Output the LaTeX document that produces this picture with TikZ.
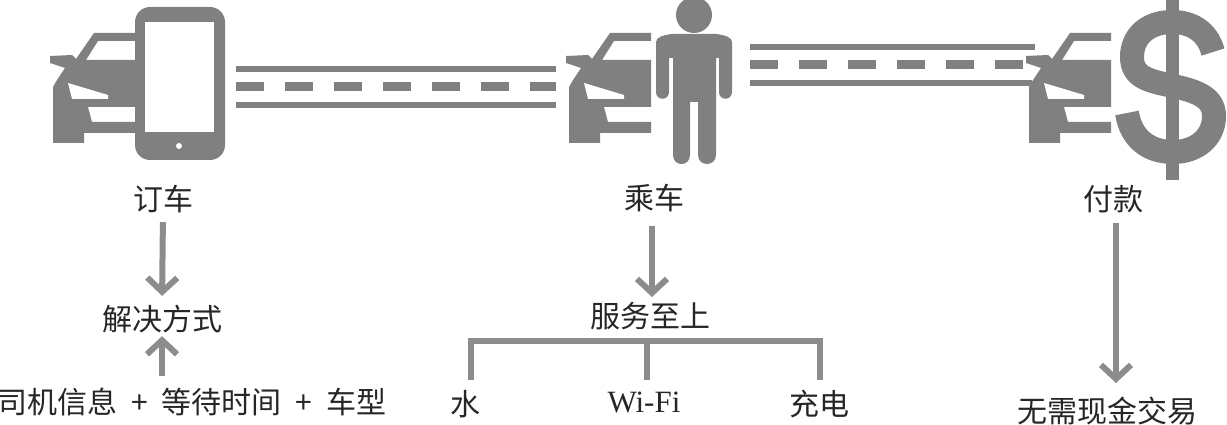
\documentclass[tikz,border=0pt]{standalone}
\usepackage{fontspec}
\usetikzlibrary{arrows.meta}
\setmainfont{Noto Sans CJK SC}
\newfontfamily\latinserif{Liberation Serif}
\definecolor{icongray}{HTML}{808080}
\definecolor{arrowgray}{HTML}{8C8C8C}
\newcommand{\carshape}[1]{%
  \begin{scope}[xshift=#1]
    \fill[icongray] (94,33) -- (135,33) -- (135,41) -- (98,41) -- (86,60) -- (135,60) -- (135,107) -- (88,107)
      -- (92,122) -- (135,122) -- (135,133) -- (84,133) -- (84,143) -- (53,143) -- (53,87) -- (57,80)
      -- (65,68) -- (50,63) -- (50,56) -- (72,55) -- (76,59) -- cycle;
    \fill[white] (68,83) -- (108,95) -- (108,99) -- (72,99) -- cycle;
  \end{scope}}
\tikzset{
  label/.style={inner sep=0pt,font=\fontsize{30}{36}\selectfont,text=black!85},
  flow/.style={draw=arrowgray,line width=6pt,-{Straight Barb[length=14pt,width=30pt,line width=6pt]}},
  bracket/.style={draw=arrowgray,line width=6pt},
  roadline/.style={draw=icongray,line width=5.5pt},
  roaddash/.style={draw=icongray,line width=9pt,dash pattern=on 28pt off 21pt},
  icon/.style={fill=icongray}
}
\begin{document}
\begin{tikzpicture}[x=1pt,y=-1pt]
\useasboundingbox (0,0) rectangle (1227,425);
% cars
\carshape{0pt}
\carshape{516pt}
\carshape{976pt}
% phone
\fill[icon,rounded corners=15pt] (135,7) rectangle (225,160);
\fill[white] (145,22) rectangle (214,132);
\fill[white] (179,146) circle (3);
% person
\fill[icon] (694,15) circle (18);
\fill[icon] (656,42) .. controls (656,37) and (664,35) .. (672,34) -- (716,34) .. controls (724,35) and (732,37) .. (732,42)
  -- (732,92) .. controls (732,101) and (719,101) .. (719,92) -- (719,58) -- (716,58)
  -- (716,155) .. controls (716,167) and (698,167) .. (698,155) -- (698,102) -- (690,102)
  -- (690,155) .. controls (690,167) and (673,167) .. (673,155) -- (673,58) -- (669,58)
  -- (669,92) .. controls (669,101) and (656,101) .. (656,92) -- cycle;
% dollar
\draw[icongray,line width=24pt] (1213,52) .. controls (1207,30) and (1190,22) .. (1172,22)
  .. controls (1148,22) and (1132,36) .. (1132,57)
  .. controls (1132,78) and (1150,81) .. (1173,86)
  .. controls (1196,91) and (1214,97) .. (1214,116)
  .. controls (1214,138) and (1196,152) .. (1173,152)
  .. controls (1148,152) and (1131,138) .. (1127,113);
\fill[icongray] (1166,0) rectangle (1179,180);
% roads
\draw[roadline] (236,69) -- (556,69);
\draw[roaddash] (236,87) -- (556,87);
\draw[roadline] (236,105) -- (556,105);
\draw[roadline] (750,47) -- (1035,47);
\draw[roaddash] (750,65) -- (1035,65);
\draw[roadline] (750,83) -- (1032,83);
% labels
\node[label] (ding) at (163,199) {订车};
\node[label] (cheng) at (654,198) {乘车};
\node[label] (fu) at (1113,199) {付款};
\node[label] (jie) at (162,319) {解决方式};
\node[label] (si) at (192,402) {司机信息\hspace{7pt} + \hspace{7pt}等待时间\hspace{7pt} + \hspace{7pt}车型};
\node[label] (fuwu) at (650,316) {服务至上};
\node[label] (shui) at (465,404) {水};
\node[label,font=\fontsize{31}{36}\selectfont\latinserif] (wifi) at (644,402) {Wi-Fi};
\node[label] (chong) at (819,404) {充电};
\node[label] (wuxu) at (1107,411) {无需现金交易};
% connectors
\draw[flow,shorten <=9pt,shorten >=9pt] (ding.south) -- (jie.north);
\draw[flow,shorten <=12pt,shorten >=3pt] (jie.south |- si.north) -- (jie.south);
\coordinate (cs) at (652,214);
\coordinate (ce) at (652,301);
\draw[flow,shorten <=12pt,shorten >=4pt] (cs) -- (ce);
\coordinate (fs) at (1116,214);
\coordinate (fe) at (1116,396);
\draw[flow,shorten <=9pt,shorten >=13pt] (fs) -- (fe);
\coordinate (bl) at (471,380);
\coordinate (tl) at (471,341);
\coordinate (tr) at (820,341);
\coordinate (br) at (820,380);
\coordinate (tm) at (647,341);
\coordinate (bm) at (647,380);
\draw[bracket] (bl) -- (tl) -- (tr) -- (br);
\draw[bracket] (tm) -- (bm);
\end{tikzpicture}
\end{document}
